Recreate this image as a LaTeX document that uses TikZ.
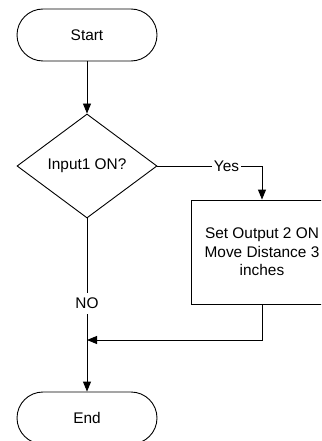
\documentclass[tikz,border=0pt]{standalone}
\usepackage{fontspec}
\setmainfont{Liberation Sans}
\usetikzlibrary{shapes.geometric,shapes.misc,arrows.meta}
\begin{document}
\begin{tikzpicture}[x=1pt,y=-1pt,
  every node/.style={font=\fontsize{15.4}{18.5}\selectfont},
  flowline/.style={draw=black,line width=0.9pt},
  arrowline/.style={flowline,-{Triangle[length=10pt,width=8pt]}},
  terminal/.style={draw=black,line width=0.9pt,rounded rectangle,minimum width=140pt,minimum height=52pt,inner sep=0pt},
  decision/.style={draw=black,line width=0.9pt,diamond,minimum width=140pt,minimum height=104pt,inner sep=0pt,shape aspect=1.346},
  process/.style={draw=black,line width=0.9pt,rectangle,minimum width=142pt,minimum height=104pt,inner sep=0pt,align=center},
  lbl/.style={fill=white,inner xsep=2pt,inner ysep=5pt}]
\useasboundingbox (0,0) rectangle (321,441);
\clip (0,0) rectangle (321,441);
\node[terminal] (start) at (87,35) {Start};
\node[decision] (dec) at (87,166) {Input1 ON?};
\node[process] (act) at (262,252) {Set Output 2 ON\\Move Distance 3\\inches};
\node[terminal] (end) at (87,418) {End};
\coordinate (merge) at (87,340);
\draw[arrowline] (start.south) -- (dec.north);
\draw[arrowline] (dec.east) -| node[lbl,pos=0.33] {Yes} (act.north);
\draw[arrowline] (dec.south) -- node[lbl,pos=0.49] {NO} (end.north);
\draw[arrowline] (act.south) |- (merge);
\end{tikzpicture}
\end{document}
